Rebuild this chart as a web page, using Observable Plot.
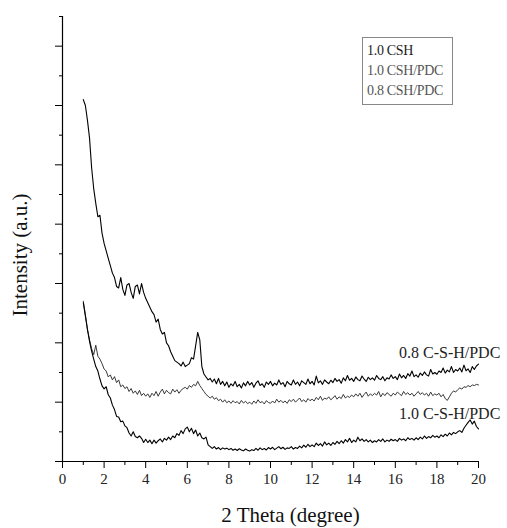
<!DOCTYPE html>
<html>
<head>
<meta charset="utf-8">
<script src="https://cdn.jsdelivr.net/npm/d3@7"></script>
<script src="https://cdn.jsdelivr.net/npm/@observablehq/plot@0.6"></script>
<style>
  html, body { margin: 0; padding: 0; background: #fff; }
  #wrap { position: relative; width: 507px; height: 528px; font-family: "Liberation Serif", serif; }
  #wrap svg, #wrap svg text { font-family: "Liberation Serif", serif !important; }
  #legend { position: absolute; left: 362px; top: 37px; width: 89px; border: 1px solid #888; background: #fff;
            font-size: 14px; line-height: 20px; padding: 3px 0 3px 0; box-sizing: content-box; }
  #legend div { padding-left: 4px; white-space: nowrap; letter-spacing: -0.3px; }
</style>
</head>
<body>
<div id="wrap"></div>
<script>
// 2-theta sampling grid (degrees)
const theta = d3.range(10, 201).map(i => i / 10);

// 0.8 C-S-H/PDC (upper curve)
const s08pdc = [
  12.2, 12.0, 11.5, 10.9, 9.9, 9.2, 8.7, 8.25, 8.3, 7.7,
  7.35, 7.1, 6.85, 6.6, 6.35, 6.2, 5.9, 5.85, 6.2, 5.8,
  5.6, 5.95, 6.0, 5.7, 5.5, 5.9, 5.95, 5.65, 6.0, 5.7,
  5.5, 5.35, 5.2, 5.05, 4.95, 4.7, 4.8, 4.45, 4.3, 4.35,
  4.0, 3.9, 3.7, 3.55, 3.4, 3.35, 3.3, 3.22, 3.35, 3.2,
  3.25, 3.3, 3.5, 3.45, 3.9, 4.35, 4.1, 3.2, 2.95, 2.85,
  2.75, 2.8, 2.68, 2.78, 2.62, 2.8, 2.6, 2.7, 2.55, 2.68,
  2.5, 2.62, 2.55, 2.7, 2.52, 2.6, 2.48, 2.65, 2.55, 2.7,
  2.58, 2.66, 2.5, 2.64, 2.72, 2.56, 2.62, 2.5, 2.68, 2.6,
  2.7, 2.55, 2.64, 2.58, 2.75, 2.6, 2.66, 2.52, 2.7, 2.62,
  2.58, 2.75, 2.6, 2.68, 2.55, 2.72, 2.66, 2.6, 2.78, 2.62,
  2.7, 2.58, 2.88, 2.65, 2.72, 2.6, 2.75, 2.68, 2.62, 2.74,
  2.66, 2.8, 2.7, 2.76, 2.64, 2.82, 2.72, 2.9, 2.74, 2.8,
  2.7, 2.85, 2.76, 2.72, 2.88, 2.78, 2.7, 2.84, 2.76, 2.82,
  2.74, 2.9, 2.8, 2.76, 2.86, 2.72, 2.82, 2.78, 2.92, 2.8,
  2.86, 2.76, 2.95, 2.82, 2.9, 2.8, 2.96, 2.88, 3.05, 2.86,
  2.92, 2.84, 2.98, 2.9, 3.02, 2.92, 2.88, 3.1, 2.95, 3.0,
  2.94, 3.05, 3.0, 3.15, 2.98, 3.08, 3.02, 3.2, 3.0, 3.1,
  3.05, 3.15, 3.02, 3.25, 3.06, 3.12, 3.0, 3.2, 3.1, 3.22, 3.28
];

// 1.0 CSH/PDC (middle, thinner curve)
const s10pdcMid = [
  5.4, 4.95, 4.45, 4.1, 3.8, 3.6, 3.92, 3.55, 3.45, 3.3,
  3.12, 3.05, 2.85, 2.92, 2.75, 2.86, 2.66, 2.75, 2.52, 2.58,
  2.46, 2.52, 2.36, 2.46, 2.3, 2.38, 2.26, 2.4, 2.22, 2.3,
  2.2, 2.28, 2.16, 2.3, 2.22, 2.36, 2.2, 2.34, 2.44, 2.28,
  2.4, 2.32, 2.28, 2.44, 2.34, 2.42, 2.3, 2.4, 2.46, 2.5,
  2.44, 2.56, 2.5, 2.6, 2.55, 2.7, 2.56, 2.46, 2.36, 2.26,
  2.2, 2.14, 2.2, 2.1, 2.15, 2.05, 2.1, 2.0, 2.08, 1.98,
  2.04, 1.96, 2.05, 1.98, 2.02, 1.94, 2.06, 1.97, 2.03, 1.95,
  2.0, 1.93, 2.04, 1.96, 2.08, 1.98, 2.02, 1.94, 2.05, 1.99,
  1.96, 2.04, 1.97, 2.1, 2.0, 2.06, 1.98, 2.04, 1.96, 2.08,
  2.02, 2.1, 2.0, 2.07, 2.14, 2.02, 2.08, 2.0, 2.12, 2.05,
  2.1, 2.04, 2.16, 2.08, 2.2, 2.06, 2.14, 2.1, 2.18, 2.08,
  2.14, 2.22, 2.1, 2.18, 2.12, 2.26, 2.14, 2.2, 2.16, 2.24,
  2.18, 2.28, 2.2, 2.3, 2.16, 2.26, 2.34, 2.2, 2.28, 2.22,
  2.3, 2.24, 2.36, 2.18, 2.3, 2.22, 2.32, 2.26, 2.2, 2.3,
  2.24, 2.34, 2.28, 2.22, 2.36, 2.26, 2.32, 2.24, 2.3, 2.2,
  2.28, 2.36, 2.26, 2.32, 2.24, 2.3, 2.2, 2.34, 2.22, 2.28,
  2.24, 2.3, 2.18, 2.26, 2.12, 2.06, 2.18, 2.3, 2.38, 2.34,
  2.42, 2.48, 2.44, 2.52, 2.5, 2.56, 2.52, 2.58, 2.56, 2.6, 2.58
];

// 1.0 C-S-H/PDC (lower curve)
const s10pdc = [
  5.35, 4.9, 4.45, 4.05, 3.72, 3.45, 3.2, 3.05, 2.78, 2.55,
  2.45, 2.52, 2.25, 2.14, 1.9, 1.75, 1.52, 1.5, 1.34, 1.36,
  1.2, 1.14, 0.96, 0.86, 1.0, 0.84, 0.8, 0.86, 0.78, 0.64,
  0.75, 0.64, 0.72, 0.6, 0.72, 0.62, 0.7, 0.76, 0.66, 0.78,
  0.72, 0.82, 0.74, 0.86, 0.8, 0.94, 0.88, 1.04, 0.94, 1.1,
  1.16, 1.0, 1.12, 0.94, 1.06, 0.86, 0.96, 0.8, 0.76, 0.82,
  0.56, 0.5, 0.44, 0.5, 0.42, 0.47, 0.4, 0.46, 0.42, 0.45,
  0.4, 0.44, 0.38, 0.42, 0.37, 0.43, 0.39, 0.36, 0.42, 0.38,
  0.35, 0.4, 0.37, 0.44, 0.38, 0.46, 0.4, 0.44, 0.39, 0.47,
  0.42, 0.48, 0.4, 0.45, 0.5, 0.43, 0.48, 0.41, 0.46, 0.44,
  0.5, 0.42, 0.47, 0.44, 0.52, 0.46, 0.55, 0.48, 0.58, 0.5,
  0.56, 0.5, 0.62, 0.54, 0.6, 0.52, 0.66, 0.56, 0.62, 0.54,
  0.64, 0.58, 0.68, 0.6, 0.7, 0.62, 0.74, 0.66, 0.78, 0.64,
  0.72, 0.66, 0.82, 0.7, 0.76, 0.68, 0.74, 0.66, 0.72, 0.64,
  0.7, 0.66, 0.74, 0.68, 0.76, 0.66, 0.72, 0.68, 0.75, 0.7,
  0.74, 0.68, 0.78, 0.72, 0.76, 0.7, 0.8, 0.74, 0.78, 0.72,
  0.8, 0.74, 0.82, 0.76, 0.86, 0.78, 0.84, 0.8, 0.88, 0.82,
  0.86, 0.8, 0.9, 0.84, 0.92, 0.86, 0.96, 0.9, 0.98, 0.94,
  1.0, 1.04, 0.98, 1.12, 1.22, 1.32, 1.4, 1.26, 1.36, 1.18, 1.1
];

const xMajor = [0, 2, 4, 6, 8, 10, 12, 14, 16, 18, 20];
const xMinor = [1, 3, 5, 7, 9, 11, 13, 15, 17, 19];
const yMajor = [0, 2, 4, 6, 8, 10, 12, 14];
const yMinor = [1, 3, 5, 7, 9, 11, 13, 15];

const legendLabels = ["1.0 CSH", "1.0 CSH/PDC", "0.8 CSH/PDC"];
const legendColors = ["#222", "#555", "#555"];

const curveLabels = ["0.8 C-S-H/PDC", "1.0 C-S-H/PDC"];
const curveLabelX = [21.05, 21.05];
const curveLabelY = [3.67, 1.62];

const xTitle = "2 Theta (degree)";
const yTitle = "Intensity (a.u.)";

const FONT = "Liberation Serif";
const rows = (vals) => theta.map((t, i) => ({t, v: vals[i]}));

const chart = Plot.plot({
  width: 507,
  height: 528,
  marginLeft: 62,
  marginRight: 29,
  marginTop: 16,
  marginBottom: 67,
  style: {fontFamily: FONT, fontSize: "15px", color: "#000", background: "#fff", overflow: "visible"},
  x: {domain: [0, 20]},
  y: {domain: [0, 15]},
  marks: [
    Plot.axisX({ticks: xMajor, tickSize: 7, tickPadding: 5, label: null, fontSize: 15, fontFamily: FONT, fill: "#222", tickFormat: d3.format("d")}),
    Plot.axisX({ticks: xMinor, tickSize: 4, tickFormat: () => "", label: null}),
    Plot.axisY({ticks: yMajor, tickSize: 7, tickFormat: () => "", label: null}),
    Plot.axisY({ticks: yMinor, tickSize: 3, tickFormat: () => "", label: null}),
    Plot.ruleX([0], {stroke: "#000", strokeWidth: 1.2}),
    Plot.ruleY([0], {stroke: "#000", strokeWidth: 1.2}),
    Plot.line(rows(s10pdcMid), {x: "t", y: "v", stroke: "#222", strokeWidth: 0.9}),
    Plot.line(rows(s10pdc), {x: "t", y: "v", stroke: "#000", strokeWidth: 1.1}),
    Plot.line(rows(s08pdc), {x: "t", y: "v", stroke: "#000", strokeWidth: 1.1}),
    Plot.text(curveLabels, {x: (d, i) => curveLabelX[i], y: (d, i) => curveLabelY[i], text: d => d,
      textAnchor: "end", fontSize: 16, fontFamily: FONT, fill: "#222"}),
    Plot.text([xTitle], {frameAnchor: "bottom", text: d => d, textAnchor: "middle", lineAnchor: "middle",
      dx: 20, dy: 54, fontSize: 21, fontFamily: FONT, fill: "#111"}),
    Plot.text([yTitle], {frameAnchor: "left", text: d => d, textAnchor: "middle", lineAnchor: "middle",
      dx: -42, dy: 16, rotate: -90, fontSize: 21, fontFamily: FONT, fill: "#111"})
  ]
});

const wrap = document.getElementById("wrap");
wrap.appendChild(chart);
const legend = document.createElement("div");
legend.id = "legend";
legendLabels.forEach((lab, i) => {
  const row = document.createElement("div");
  row.textContent = lab;
  row.style.color = legendColors[i];
  legend.appendChild(row);
});
wrap.appendChild(legend);
</script>
</body>
</html>
